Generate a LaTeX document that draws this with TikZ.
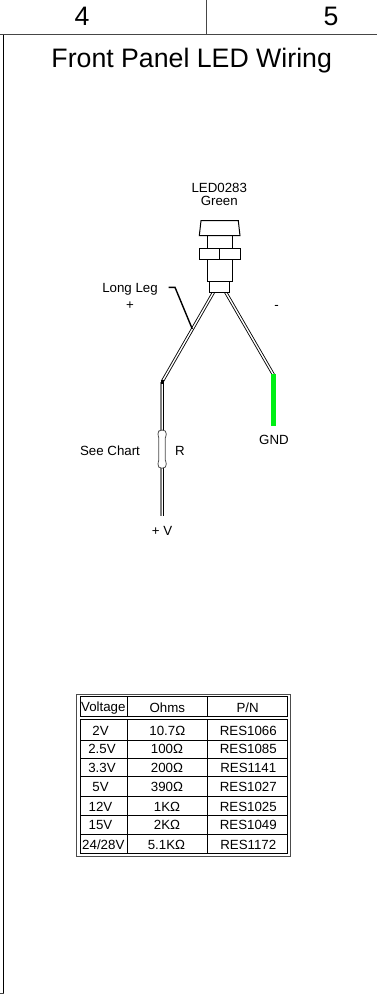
\documentclass[tikz,border=0pt]{standalone}
\usepackage{fontspec}
\setmainfont{Liberation Sans}
\definecolor{ledgreen}{RGB}{0,240,20}
\definecolor{framegray}{RGB}{70,70,70}
\tikzset{
  frameline/.style={draw=framegray,line width=1pt},
  part/.style={draw=black,line width=1pt,fill=white,line join=miter},
  wire/.style={draw=black,line width=0.85pt,double=white,double distance=1.4pt},
  wiregray/.style={draw=black!50,line width=2pt},
  wireblack/.style={draw=black,line width=1pt},
  leader/.style={draw=black,line width=1.4pt},
  big/.style={inner sep=0,anchor=base,font=\fontsize{26.7}{30}\selectfont,text=black},
  lab/.style={inner sep=0,anchor=base,font=\fontsize{13.3}{15}\selectfont,text=black},
  outerbox/.style={draw=black!70,line width=1pt},
  cellrule/.style={draw=black,line width=1pt}
}
\begin{document}
\begin{tikzpicture}[x=1pt,y=-1pt]
\useasboundingbox (0,0) rectangle (377,997);
% sheet frame
\coordinate (hl) at (0,34.5); \coordinate (hr) at (377,34.5);
\coordinate (vt) at (206.5,0); \coordinate (vb) at (206.5,34.5);
\coordinate (ft) at (3.5,34.5); \coordinate (fb) at (3.5,993.5); \coordinate (fe) at (0,993.5);
\draw[frameline] (hl) -- (hr);
\draw[frameline] (vt) -- (vb);
\draw[draw=black,line width=1pt] (ft) -- (fb);
\draw[frameline] (fb) -- (fe);
\node[big] (zone4) at (82,25) {4};
\node[big] (zone5) at (331,25) {5};
\node[big] (title) at (191.7,67.5) {Front Panel LED Wiring};
% labels
\node[lab] (ledname) at (219.3,192.7) {LED0283};
\node[lab] (ledcolor) at (219.3,205.7) {Green};
\node[lab] (longleg) at (130,292) {Long Leg};
\node[lab] (plus) at (130,309) {+};
\node[lab] (minus) at (276.7,309) {-};
\node[lab] (gnd) at (274,444) {GND};
\node[lab] (seechart) at (110,455) {See Chart};
\node[lab] (rlabel) at (180,455) {R};
\node[lab] (plusv) at (162,535) {+ V};
% wires
\coordinate (ll0) at (213.5,292.3);
\coordinate (ll1) at (162.3,381.5);
\coordinate (rl0) at (225.7,292.3);
\coordinate (rl1) at (273.3,374.5);
\coordinate (rga) at (161,382); \coordinate (rgb) at (161,516);
\coordinate (rba) at (163.5,382); \coordinate (rbb) at (163.5,516);
\draw[wire] (ll0) -- (ll1);
\draw[wire] (rl0) -- (rl1);
\draw[wiregray] (rga) -- (rgb);
\draw[wireblack] (rba) -- (rbb);
\fill[black] (160.5,380) rectangle (164,384);
\coordinate (g0) at (273.5,374);
\coordinate (g1) at (273.5,426);
\draw[draw=ledgreen,line width=5pt] (g0) -- (g1);
% resistor
\draw[part,line width=0.8pt,draw=black!70] (162,430) .. controls (165,430) and (166.5,431.5) .. (166.3,434)
  .. controls (166.3,436) and (165.3,437) .. (165.3,438) -- (165.3,460)
  .. controls (165.3,461) and (166.3,462) .. (166.3,464)
  .. controls (166.5,466.5) and (165,468.3) .. (162,468.3)
  .. controls (158.9,468.3) and (157.8,466.5) .. (158,464)
  .. controls (158,462) and (158.8,461) .. (158.8,460) -- (158.8,438)
  .. controls (158.8,437) and (158,436) .. (158,434)
  .. controls (157.8,431.5) and (158.9,430) .. (162,430) -- cycle;
% LED body
\draw[part] (207,235.7) rectangle (232.7,281.7);
\draw[part] (201,220.7) -- (238.3,220.7) -- (240,235.7) -- (199.3,235.7) -- cycle;
\draw[part] (199.3,248.3) rectangle (240.3,259);
\coordinate (nt) at (219.3,248.3); \coordinate (nb) at (219.3,259);
\draw[part] (nt) -- (nb);
\draw[part] (209.7,281.7) rectangle (229.7,292.3);
% leader
\coordinate (la) at (168.5,287.3);
\coordinate (lb) at (175,287.3);
\coordinate (lc) at (192.3,329);
\draw[leader] (la) -- (lb) -- (lc);
% table
\draw[outerbox] (76.7,694.3) rectangle (290.7,856.7);
\draw[cellrule] (80,696.7) rectangle (287.3,716.7);
\draw[cellrule] (80,719.3) rectangle (287.3,853.3);
\foreach \yy in {740,758.3,776.7,796.7,815,834} \draw[cellrule] (80,\yy) -- (287.3,\yy);
\foreach \xx in {127.3,207.3} { \draw[cellrule] (\xx,696.7) -- (\xx,716.7); \draw[cellrule] (\xx,719.3) -- (\xx,853.3); }
\node[lab] (h1) at (103.3,711.7) {Voltage};
\node[lab] (h2) at (167.3,712.3) {Ohms};
\node[lab] (h3) at (247.7,712.3) {P/N};
\node[lab] (a1) at (100.5,735) {2V};
\node[lab] (b1) at (167.3,735) {10.7Ω};
\node[lab] (c1) at (248.3,735) {RES1066};
\node[lab] (a2) at (102,753.5) {2.5V};
\node[lab] (b2) at (167,753.5) {100Ω};
\node[lab] (c2) at (248.3,753.5) {RES1085};
\node[lab] (a3) at (102,772) {3.3V};
\node[lab] (b3) at (167,772) {200Ω};
\node[lab] (c3) at (248.3,772) {RES1141};
\node[lab] (a4) at (100.5,791) {5V};
\node[lab] (b4) at (167,791) {390Ω};
\node[lab] (c4) at (248.3,791) {RES1027};
\node[lab] (a5) at (100.5,811) {12V};
\node[lab] (b5) at (167,811) {1KΩ};
\node[lab] (c5) at (248.3,811) {RES1025};
\node[lab] (a6) at (100.5,829.5) {15V};
\node[lab] (b6) at (167,829.5) {2KΩ};
\node[lab] (c6) at (248.3,829.5) {RES1049};
\node[lab] (a7) at (103.3,849) {24/28V};
\node[lab] (b7) at (166.5,849) {5.1KΩ};
\node[lab] (c7) at (248.3,849) {RES1172};
\end{tikzpicture}
\end{document}
